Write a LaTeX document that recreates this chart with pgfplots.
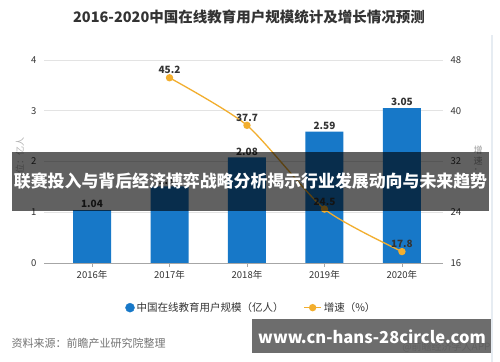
\documentclass[border=0pt]{standalone}
\usepackage{pgfplots}
\pgfplotsset{compat=1.18}
\usepackage{fontspec}
\setmainfont{Noto Sans CJK SC}
\definecolor{barblue}{HTML}{1778C8}
\definecolor{lineorange}{HTML}{F2AE2E}
\definecolor{txt}{HTML}{333333}
\definecolor{edge}{HTML}{E6ECF2}
\begin{document}
\begin{tikzpicture}
\path[use as bounding box] (0,0) rectangle (500bp,362bp);
\fill[white] (0,0) rectangle (500bp,362bp);
\draw[color=edge, line width=1.5bp] (492bp,0) -- (492bp,327bp);
\node[font=\bfseries\fontsize{14.5bp}{16bp}\selectfont, text=txt] at (249bp,345bp) {2016-2020中国在线教育用户规模统计及增长情况预测};
\begin{axis}[
  at={(44bp,99bp)}, anchor=south west,
  scale only axis, width=399bp, height=203bp,
  xmin=-0.62, xmax=4.53, ymin=0, ymax=4,
  xtick={0,1,2,3,4}, xticklabels={2016年,2017年,2018年,2019年,2020年},
  ytick={0,1,2,3,4},
  axis x line*=bottom, axis y line*=left,
  y axis line style={draw=none},
  x axis line style={draw=gray!70, -},
  xtick style={draw=gray!70}, major tick length=4bp, tick align=outside,
  ytick style={draw=none},
  ymajorgrids, grid style={draw=gray!22, line width=0.6bp},
  tick label style={font=\fontsize{9.5bp}{11bp}\selectfont, text=txt},
  /pgf/number format/assume math mode=true,
  nodes near coords={\pgfmathprintnumber[fixed,fixed zerofill,precision=2]{\pgfplotspointmeta}},
  every node near coord/.append style={font=\bfseries\fontsize{10bp}{11bp}\selectfont, text=txt, inner sep=2bp},
]
\addplot[ybar, bar width=38bp, fill=barblue, draw=none] coordinates {(0,1.04) (1,1.51) (2,2.08) (3,2.59) (4,3.05)};
\end{axis}
\begin{axis}[
  at={(44bp,99bp)}, anchor=south west,
  scale only axis, width=399bp, height=203bp,
  xmin=-0.62, xmax=4.53, ymin=16, ymax=48,
  axis x line=none, axis y line*=right,
  y axis line style={draw=none},
  ytick={16,24,32,40,48}, ytick style={draw=none},
  yticklabel style={xshift=4bp},
  tick label style={font=\fontsize{9.5bp}{11bp}\selectfont, text=txt},
  /pgf/number format/assume math mode=true,
  legend style={at={(0.52,-0.22)}, anchor=center, draw=none, fill=none, legend columns=2,
    font=\fontsize{10.5bp}{12bp}\selectfont, text=txt,
    /tikz/every even column/.append style={column sep=18bp}},
]
\addlegendimage{only marks, mark=*, mark size=4.5bp, color=barblue}
\addlegendentry{中国在线教育用户规模（亿人）}
\addplot[lineorange, line width=1.3bp, smooth, tension=0.4, mark=*, mark size=3bp,
  nodes near coords={\pgfmathprintnumber[fixed,fixed zerofill,precision=1]{\pgfplotspointmeta}},
  every node near coord/.append style={font=\bfseries\fontsize{10bp}{11bp}\selectfont, text=txt, inner sep=3bp}]
  coordinates {(1,45.2) (2,37.7) (3,24.5) (4,17.8)};
\addlegendentry{增速（\%）}
\end{axis}
\node[rotate=90, font=\fontsize{9bp}{10bp}\selectfont, text=gray!60] at (20bp,202bp) {单位：亿人};
\node[font=\fontsize{9bp}{10bp}\selectfont, text=gray!80, align=center, inner sep=0pt] at (478bp,197bp) {\shortstack{增\\速\\：\\\%}};
\fill[black, opacity=0.62] (12bp,151bp) rectangle (489bp,210bp);
\node[text=white, font=\bfseries\fontsize{16.9bp}{19bp}\selectfont] at (250.5bp,180.5bp) {联赛投入与背后经济博弈战略分析揭示行业发展动向与未来趋势};
\node[anchor=west, text=gray!90!black, font=\fontsize{11bp}{12bp}\selectfont] at (8bp,19bp) {资料来源：前瞻产业研究院整理};
\node[anchor=east, text=gray!70!black, font=\fontsize{10bp}{11bp}\selectfont] at (494bp,15bp) {@前瞻经济学人APP};
\fill[black!62, opacity=0.92] (252bp,9bp) rectangle (491bp,43bp);
\node[text=white, font=\bfseries\fontsize{16.5bp}{18bp}\selectfont] at (372bp,25bp) {www.cn-hans-28circle.com};
\end{tikzpicture}
\end{document}
